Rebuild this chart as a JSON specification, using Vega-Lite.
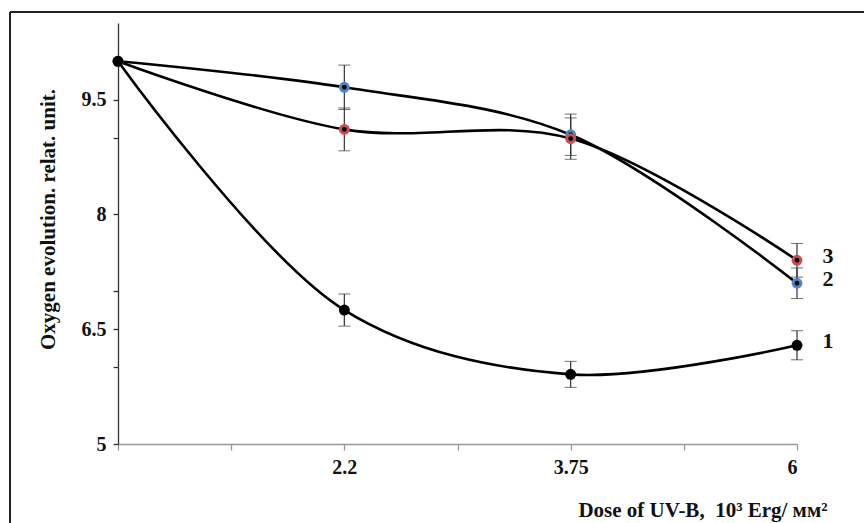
{
  "$schema": "https://vega.github.io/schema/vega-lite/v6.json",
  "width": 679,
  "height": 421,
  "autosize": "none",
  "padding": {"left": 118, "top": 23, "right": 67, "bottom": 79},
  "background": "white",
  "config": {
    "view": {"stroke": null},
    "font": "Liberation Serif"
  },
  "data": {
    "values": [
      {"series": "1", "step": 0, "value": 10.0, "err": null},
      {"series": "1", "step": 1, "value": 6.75, "err": 0.21},
      {"series": "1", "step": 2, "value": 5.91, "err": 0.17},
      {"series": "1", "step": 3, "value": 6.29, "err": 0.19},
      {"series": "2", "step": 0, "value": 10.0, "err": null},
      {"series": "2", "step": 1, "value": 9.66, "err": 0.29},
      {"series": "2", "step": 2, "value": 9.04, "err": 0.27},
      {"series": "2", "step": 3, "value": 7.10, "err": 0.20},
      {"series": "3", "step": 0, "value": 10.0, "err": null},
      {"series": "3", "step": 1, "value": 9.11, "err": 0.28},
      {"series": "3", "step": 2, "value": 8.99, "err": 0.27},
      {"series": "3", "step": 3, "value": 7.40, "err": 0.22}
    ]
  },
  "encoding": {
    "x": {
      "field": "step",
      "type": "quantitative",
      "scale": {"domain": [0, 3], "nice": false, "zero": false},
      "axis": {
        "values": [0, 0.5, 1, 1.5, 2, 2.5, 3],
        "labelExpr": "datum.value == 1 ? '2.2' : datum.value == 2 ? '3.75' : datum.value == 3 ? '6' : ''",
        "grid": false,
        "domainColor": "#999999",
        "domainWidth": 1.3,
        "tickColor": "#999999",
        "tickWidth": 1.3,
        "tickSize": 6,
        "labelFont": "Liberation Serif",
        "labelFontWeight": "bold",
        "labelFontSize": 20,
        "labelColor": "#111111",
        "labelPadding": 7,
        "title": "Dose of UV-B,\u00a0\u00a010³ Erg/ мм²",
        "titleFont": "Liberation Serif",
        "titleFontWeight": "bold",
        "titleFontSize": 21,
        "titleColor": "#111111",
        "titleAnchor": null,
        "titleAlign": "right",
        "titleBaseline": "alphabetic",
        "titleX": 709,
        "titleY": 72
      }
    },
    "y": {
      "field": "value",
      "type": "quantitative",
      "scale": {"domain": [5, 10.5], "nice": false, "zero": false},
      "axis": {
        "values": [5, 6, 6.5, 7, 8, 9, 9.5],
        "labelExpr": "datum.value == 5 ? '5' : datum.value == 6.5 ? '6.5' : datum.value == 8 ? '8' : datum.value == 9.5 ? '9.5' : ''",
        "grid": false,
        "domainColor": "#333333",
        "domainWidth": 1.3,
        "tickColor": "#333333",
        "tickWidth": 1.3,
        "tickSize": 5,
        "labelFont": "Liberation Serif",
        "labelFontWeight": "bold",
        "labelFontSize": 20,
        "labelColor": "#111111",
        "labelPadding": 7,
        "title": "Oxygen evolution. relat. unit.",
        "titleFont": "Liberation Serif",
        "titleFontWeight": "bold",
        "titleFontSize": 21,
        "titleColor": "#111111",
        "titleAngle": -90,
        "titleAlign": "center",
        "titleBaseline": "middle",
        "titleX": -70,
        "titleY": 196
      }
    }
  },
  "layer": [
    {
      "mark": {"type": "rule", "color": "#222222", "strokeWidth": 1.5, "clip": false},
      "encoding": {
        "x": {"datum": -0.477, "type": "quantitative"},
        "y": {"datum": 10.64, "type": "quantitative"},
        "y2": {"datum": 3.9}
      }
    },
    {
      "mark": {"type": "rule", "color": "#222222", "strokeWidth": 1.5, "clip": false},
      "encoding": {
        "y": {"datum": 10.64, "type": "quantitative"},
        "x": {"datum": -0.477, "type": "quantitative"},
        "x2": {"datum": 3.4}
      }
    },
    {
      "transform": [{"filter": "datum.err != null"}],
      "mark": {"type": "errorbar", "ticks": {"size": 12, "color": "#333333", "strokeWidth": 1.2}, "rule": {"color": "#333333", "strokeWidth": 1.2}},
      "encoding": {
        "y": {"field": "value", "type": "quantitative"},
        "yError": {"field": "err"},
        "detail": {"field": "series"}
      }
    },
    {
      "mark": {"type": "line", "interpolate": "catmull-rom", "color": "#000000", "strokeWidth": 2.6},
      "encoding": {
        "detail": {"field": "series"}
      }
    },
    {
      "transform": [{"filter": "datum.series != '1'"}],
      "mark": {"type": "point", "filled": false, "fill": "#000000", "fillOpacity": 1, "strokeWidth": 3, "opacity": 1, "size": 62},
      "encoding": {
        "stroke": {
          "field": "series",
          "type": "nominal",
          "scale": {"domain": ["2", "3"], "range": ["#4f86c6", "#c9504d"]},
          "legend": null
        }
      }
    },
    {
      "transform": [{"filter": "datum.series == '1'"}],
      "mark": {"type": "circle", "color": "#000000", "opacity": 1, "size": 120}
    },
    {
      "transform": [{"filter": "datum.step == 3"}],
      "mark": {"type": "text", "font": "Liberation Serif", "fontWeight": "bold", "fontSize": 22, "color": "#111111", "dx": 31, "dy": -4, "align": "center", "baseline": "middle"},
      "encoding": {
        "text": {"field": "series"}
      }
    }
  ]
}
